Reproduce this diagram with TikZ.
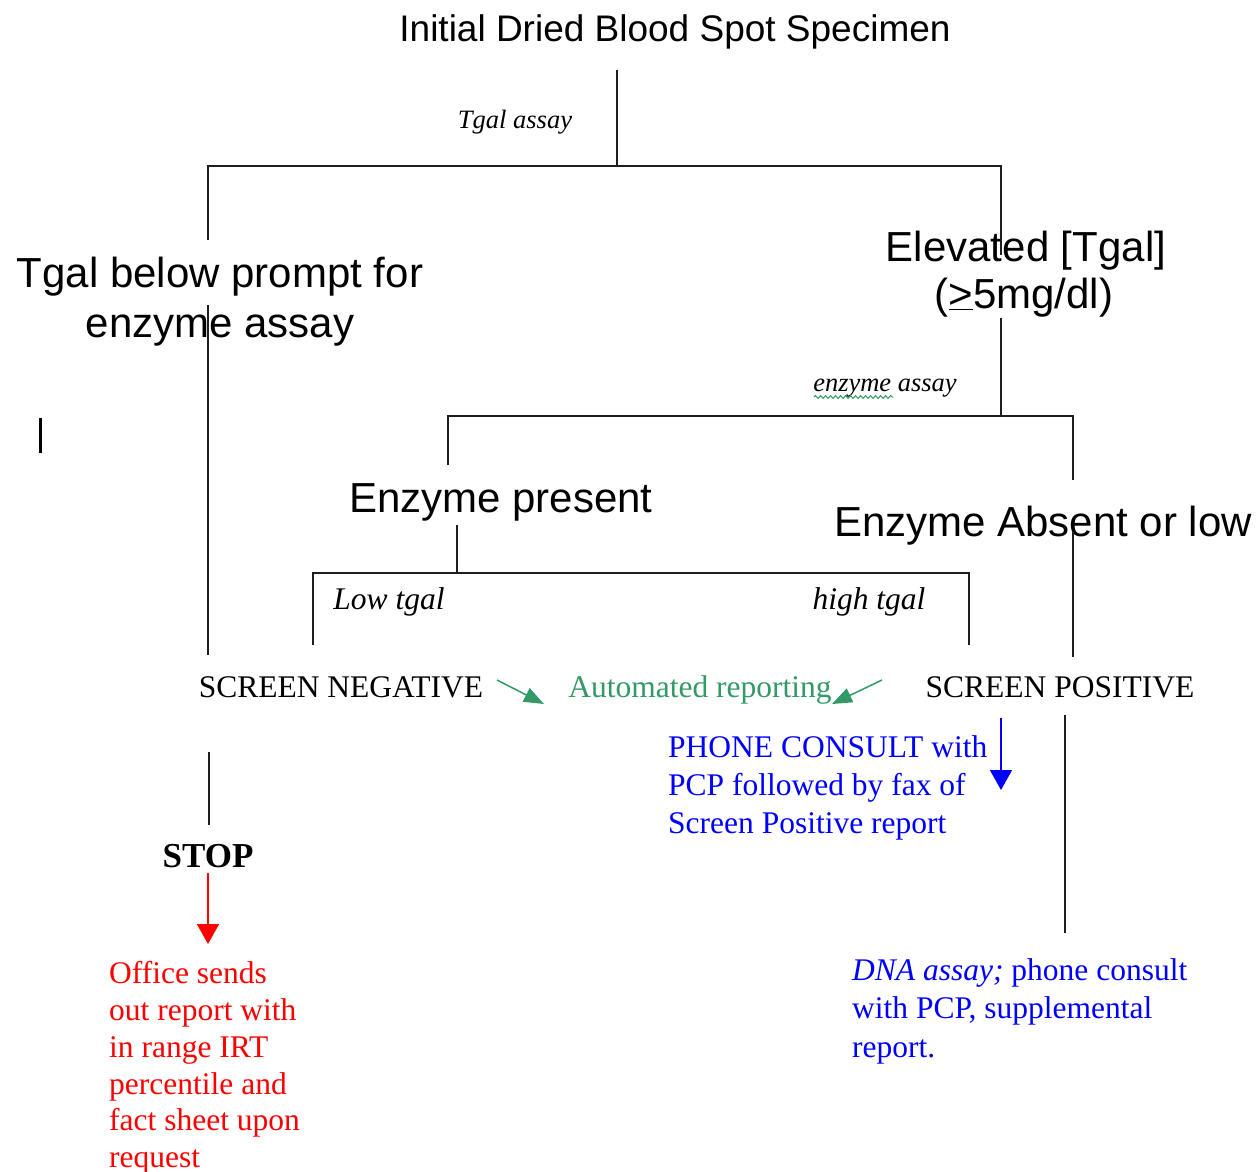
\documentclass[tikz,border=0pt]{standalone}
\usepackage{fontspec}
\setmainfont{Liberation Serif}
\newfontfamily\arialf{Liberation Sans}
\usetikzlibrary{arrows.meta,decorations.pathmorphing}
\definecolor{sgreen}{RGB}{51,153,102}
\definecolor{lncol}{RGB}{30,30,30}
\begin{document}
\begin{tikzpicture}[x=1pt,y=-1pt,
  ttl/.style={font=\arialf\fontsize{37}{44}\selectfont, inner sep=0, anchor=base},
  big/.style={font=\arialf\fontsize{42}{50}\selectfont, inner sep=0, anchor=base},
  lbl/.style={font=\itshape\fontsize{26.5}{30}\selectfont, inner sep=0, anchor=base},
  ser/.style={font=\fontsize{31.5}{37}\selectfont, inner sep=0, anchor=base},
  serl/.style={font=\fontsize{31.5}{37}\selectfont, inner sep=0, anchor=base west},
  ln/.style={line width=1.6pt, draw=lncol},
  arr/.style={line width=1.6pt, -{Triangle[width=22pt,length=20pt]}},
  garr/.style={line width=1.5pt, draw=sgreen, -{Triangle[width=15pt,length=20pt]}, fill=sgreen}
]
\useasboundingbox (0,0) rectangle (1258,1172);
\fill[white] (0,0) rectangle (1258,1172);

% texts
\node[ttl] (title) at (675,42) {Initial Dried Blood Spot Specimen};
\node[lbl] (tgalassay) at (515,128) {Tgal assay};
\node[big] (below1) at (220,287) {Tgal below prompt for};
\node[big] (below2) at (220,337) {enzyme assay};
\node[big] (elev1) at (1026,261) {Elevated [Tgal]};
\node[big] (elev2) at (1024,308) {(\underline{>}5mg/dl)};
\node[lbl] (enzassay) at (885,391) {enzyme assay};
\node[big] (present) at (501,512) {Enzyme present};
\node[big] (absent) at (1043,536) {Enzyme Absent or low};
\node[ser] (lowt) at (389,609) {\itshape Low tgal};
\node[ser] (hight) at (869,609) {\itshape high tgal};
\node[ser] (neg) at (341,697) {SCREEN NEGATIVE};
\node[ser, text=sgreen] (auto) at (700,697) {Automated reporting};
\node[ser] (pos) at (1060,697) {SCREEN POSITIVE};
\node[serl, text=blue] (ph1) at (668,757) {PHONE CONSULT with};
\node[serl, text=blue] (ph2) at (668,795) {PCP followed by fax of};
\node[serl, text=blue] (ph3) at (668,833) {Screen Positive report};
\node[font=\bfseries\fontsize{35}{40}\selectfont, inner sep=0, anchor=base] (stop) at (208,867) {STOP};
\node[serl, text=red] (r1) at (109,983) {Office sends};
\node[serl, text=red] (r2) at (109,1020) {out report with};
\node[serl, text=red] (r3) at (109,1057) {in range IRT};
\node[serl, text=red] (r4) at (109,1094) {percentile and};
\node[serl, text=red] (r5) at (109,1130) {fact sheet upon};
\node[serl, text=red] (r6) at (109,1167) {request};
\node[serl, text=blue] (b1) at (852,980) {\textit{DNA assay;} phone consult};
\node[serl, text=blue] (b2) at (852,1018) {with PCP, supplemental};
\node[serl, text=blue] (b3) at (852,1057) {report.};

% spell-check wavy underline
\coordinate (w1) at (814,397);
\coordinate (w2) at (893,397);
\draw[sgreen, line width=1pt, decorate, decoration={snake, segment length=5pt, amplitude=1.4pt}] (w1) -- (w2);

% tree lines
\coordinate (t0) at (617,70);
\coordinate (t1) at (617,166);
\coordinate (l0) at (208,166);
\coordinate (l1) at (208,240);
\coordinate (r0) at (1001,166);
\coordinate (rr1) at (1001,255);
\draw[ln] (t0) -- (t1);
\draw[ln] (l1) -- (l0) -- (r0) -- (rr1);
\coordinate (l2) at (208,305);
\coordinate (l3) at (208,655);
\draw[ln] (l2) -- (l3);
\coordinate (e0) at (1001,318);
\coordinate (e1) at (1001,416);
\draw[ln] (e0) -- (e1);
\coordinate (p0) at (448,465);
\coordinate (p1) at (448,416);
\coordinate (a1) at (1073,416);
\coordinate (a0) at (1073,480);
\draw[ln] (p0) -- (p1) -- (a1) -- (a0);
\coordinate (a2) at (1073,532);
\coordinate (a3) at (1073,657);
\draw[ln] (a2) -- (a3);
\coordinate (q0) at (457,525);
\coordinate (q1) at (457,573);
\draw[ln] (q0) -- (q1);
\coordinate (lo0) at (313,645);
\coordinate (lo1) at (313,573);
\coordinate (hi1) at (969,573);
\coordinate (hi0) at (969,645);
\draw[ln] (lo0) -- (lo1) -- (hi1) -- (hi0);
\coordinate (n0) at (209,752);
\coordinate (n1) at (209,825);
\draw[ln] (n0) -- (n1);
\coordinate (s0) at (1065,715);
\coordinate (s1) at (1065,933);
\draw[ln] (s0) -- (s1);

% arrows
\coordinate (ra0) at (208,873);
\coordinate (ra1) at (208,944);
\draw[arr, red] (ra0) -- (ra1);
\coordinate (ba0) at (1001,718);
\coordinate (ba1) at (1001,790);
\draw[arr, blue] (ba0) -- (ba1);
\coordinate (g0) at (497,680);
\coordinate (g1) at (544,704);
\draw[garr] (g0) -- (g1);
\coordinate (g2) at (882,680);
\coordinate (g3) at (832,704);
\draw[garr] (g2) -- (g3);

% stray bar
\coordinate (bar0) at (40,418);
\coordinate (bar1) at (40,453);
\draw[line width=3pt] (bar0) -- (bar1);
\end{tikzpicture}
\end{document}
